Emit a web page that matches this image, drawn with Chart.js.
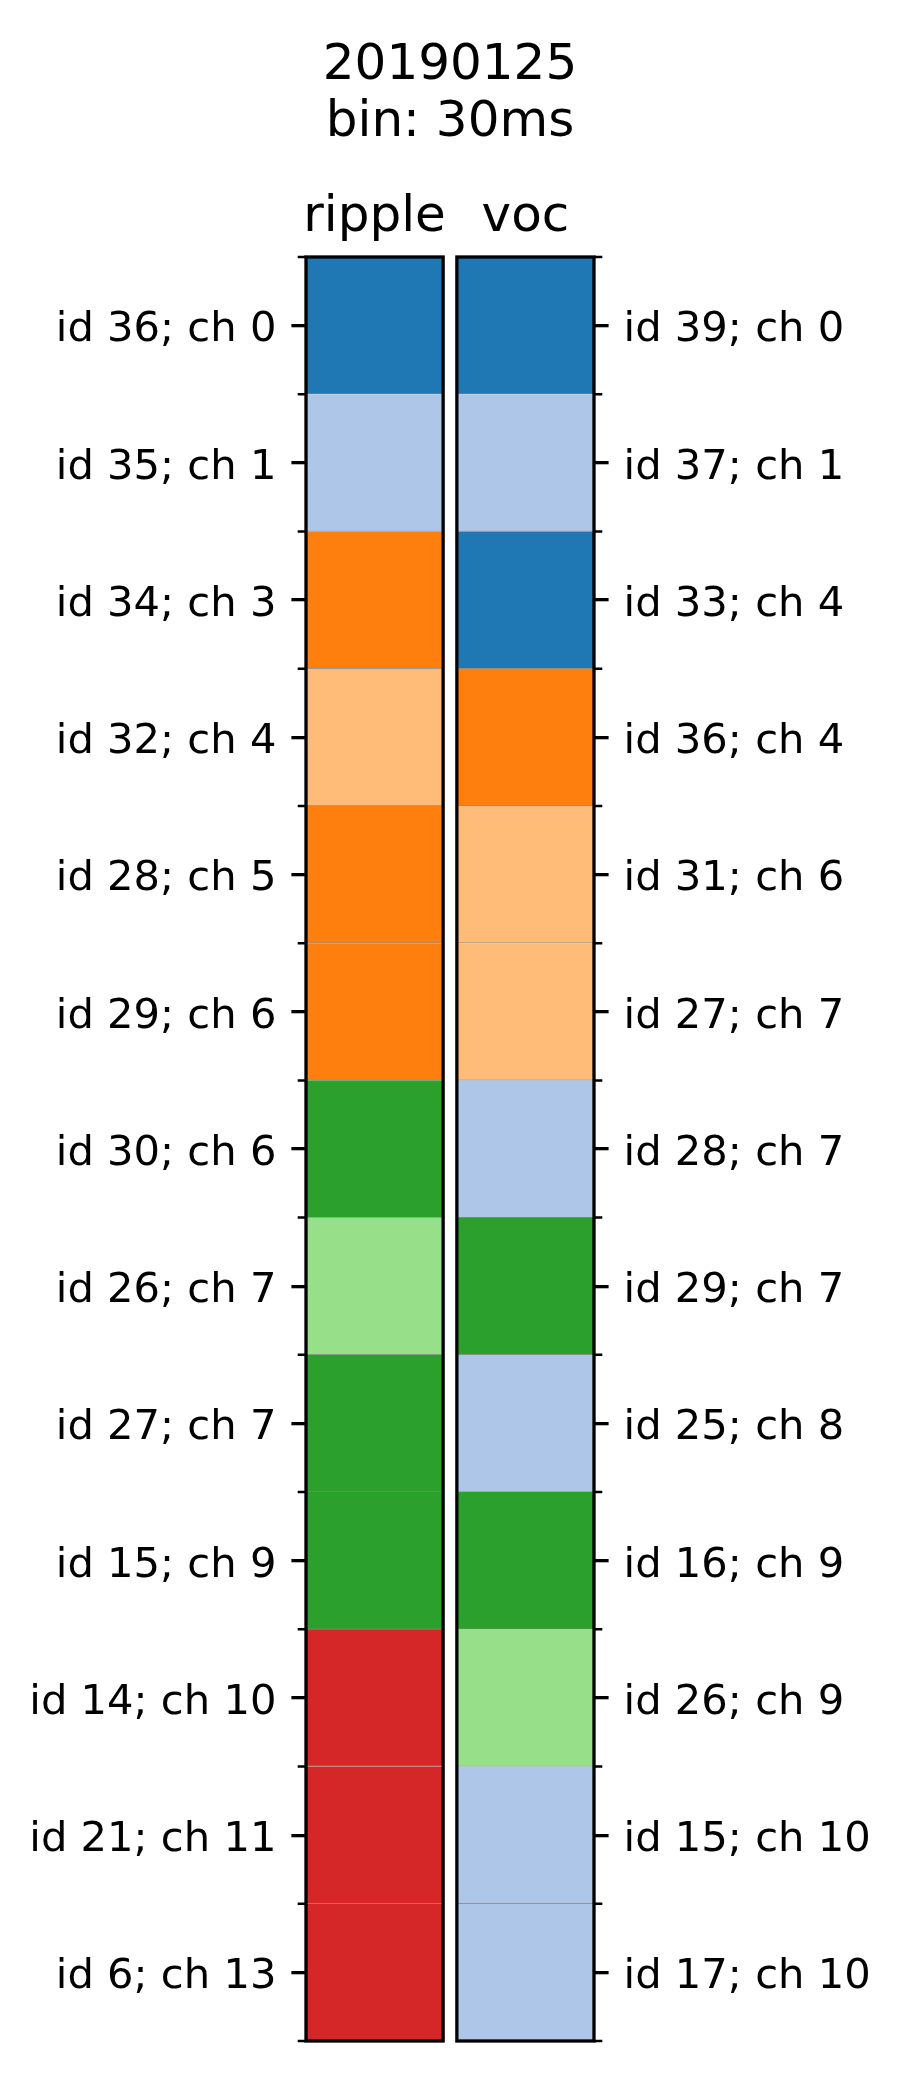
<!DOCTYPE html>
<html>
<head>
<meta charset="utf-8">
<script src="https://cdn.jsdelivr.net/npm/chart.js@4/dist/chart.umd.min.js"></script>
<style>
  html, body { margin: 0; padding: 0; background: #ffffff; }
  #wrap { width: 900px; height: 2100px; }
</style>
</head>
<body>
<div id="wrap"><canvas id="c" width="900" height="2100" style="width:900px;height:2100px"></canvas></div>
<script>
// ---- data ----
const titleLines = ["20190125", "bin: 30ms"];
const panelNames = ["ripple", "voc"];
const rippleLabels = ["id 36; ch 0", "id 35; ch 1", "id 34; ch 3", "id 32; ch 4", "id 28; ch 5", "id 29; ch 6", "id 30; ch 6", "id 26; ch 7", "id 27; ch 7", "id 15; ch 9", "id 14; ch 10", "id 21; ch 11", "id 6; ch 13"];
const vocLabels = ["id 39; ch 0", "id 37; ch 1", "id 33; ch 4", "id 36; ch 4", "id 31; ch 6", "id 27; ch 7", "id 28; ch 7", "id 29; ch 7", "id 25; ch 8", "id 16; ch 9", "id 26; ch 9", "id 15; ch 10", "id 17; ch 10"];
// colour category of each cell (index into palette)
const rippleValues = [0, 1, 2, 3, 2, 2, 4, 5, 4, 4, 6, 6, 6];
const vocValues = [0, 1, 0, 2, 3, 3, 1, 4, 1, 4, 5, 1, 1];
const palette = ["#1f77b4", "#aec7e8", "#ff7f0e", "#ffbb78", "#2ca02c", "#98df8a", "#d62728"];

// ---- layout / style ----
const PANEL_GAP = 0.1;
const LW = 3.3, MAJOR = 14.6, MINOR = 8.3, MINOR_LW = 2.5;
const panelStart = p => p * (1 + PANEL_GAP);

Chart.defaults.font.family = "'DejaVu Sans', sans-serif";
Chart.defaults.color = "#000";

function panelDataset(values, p, axisId) {
  return {
    data: values.map(() => [panelStart(p), panelStart(p) + 1]),
    backgroundColor: values.map(v => palette[v]),
    borderColor: "rgba(128,128,128,0.9)",
    borderWidth: {top: 0, left: 0, right: 0, bottom: 1},
    borderSkipped: false,
    barPercentage: 1,
    categoryPercentage: 1,
    grouped: false,
    yAxisID: axisId,
    xAxisID: "x"
  };
}

const framePlugin = {
  id: "frame",
  afterDatasetsDraw(chart) {
    const {ctx, chartArea} = chart;
    const xs = chart.scales.x, ys = chart.scales.y;
    ctx.save();
    ctx.strokeStyle = "#000";
    // minor ticks at cell boundaries on outer sides
    const n = ys.ticks.length;
    const half = (ys.getPixelForTick(1) - ys.getPixelForTick(0)) / 2;
    const bounds = [];
    for (let i = 0; i < n; i++) bounds.push(ys.getPixelForTick(i) - half);
    bounds.push(ys.getPixelForTick(n - 1) + half);
    ctx.lineWidth = MINOR_LW;
    ctx.beginPath();
    bounds.forEach(y => {
      ctx.moveTo(chartArea.left - MINOR, y); ctx.lineTo(chartArea.left, y);
      ctx.moveTo(chartArea.right, y); ctx.lineTo(chartArea.right + MINOR, y);
    });
    ctx.stroke();
    // panel frames
    ctx.lineWidth = LW;
    panelNames.forEach((_, p) => {
      const x0 = xs.getPixelForValue(panelStart(p));
      const x1 = xs.getPixelForValue(panelStart(p) + 1);
      ctx.strokeRect(x0, chartArea.top, x1 - x0, chartArea.bottom - chartArea.top);
    });
    ctx.restore();
  }
};

const tickFont = {size: 41.67, family: "'DejaVu Sans', sans-serif"};

new Chart(document.getElementById("c"), {
  type: "bar",
  data: {
    labels: rippleLabels,
    datasets: [panelDataset(rippleValues, 0, "y"), panelDataset(vocValues, 1, "y2")]
  },
  options: {
    indexAxis: "y",
    responsive: false,
    animation: false,
    events: [],
    layout: {padding: {top: 0, bottom: 59, left: 0, right: 0}},
    plugins: {
      legend: {display: false},
      tooltip: {enabled: false},
      title: {
        display: true,
        text: titleLines,
        color: "#000",
        font: {size: 50, weight: "normal", lineHeight: 1.15, family: "'DejaVu Sans', sans-serif"},
        padding: {top: 37, bottom: 0}
      }
    },
    scales: {
      x: {
        type: "linear",
        position: "top",
        min: 0,
        max: panelStart(panelNames.length - 1) + 1,
        grid: {display: false, drawTicks: false},
        border: {display: false},
        afterBuildTicks: s => { s.ticks = panelNames.map((_, p) => ({value: panelStart(p) + 0.5})); },
        afterFit: s => { s.height = 105; },
        ticks: {
          autoSkip: false,
          maxRotation: 0,
          padding: 9,
          font: {size: 50},
          color: "#000",
          callback: (v, i) => panelNames[i]
        }
      },
      y: {
        type: "category",
        position: "left",
        labels: rippleLabels,
        offset: true,
        afterFit: s => { s.width = 306; },
        grid: {display: true, offset: false, drawOnChartArea: false, drawTicks: true, tickLength: MAJOR, lineWidth: LW, color: "#000"},
        border: {display: false},
        ticks: {autoSkip: false, padding: 15, labelOffset: 5, font: tickFont, color: "#000"}
      },
      y2: {
        type: "category",
        position: "right",
        labels: vocLabels,
        offset: true,
        afterFit: s => { s.width = 306; },
        grid: {display: true, offset: false, drawOnChartArea: false, drawTicks: true, tickLength: MAJOR, lineWidth: LW, color: "#000"},
        border: {display: false},
        ticks: {autoSkip: false, padding: 15, labelOffset: 5, font: tickFont, color: "#000"}
      }
    }
  },
  plugins: [framePlugin]
});
</script>
</body>
</html>
